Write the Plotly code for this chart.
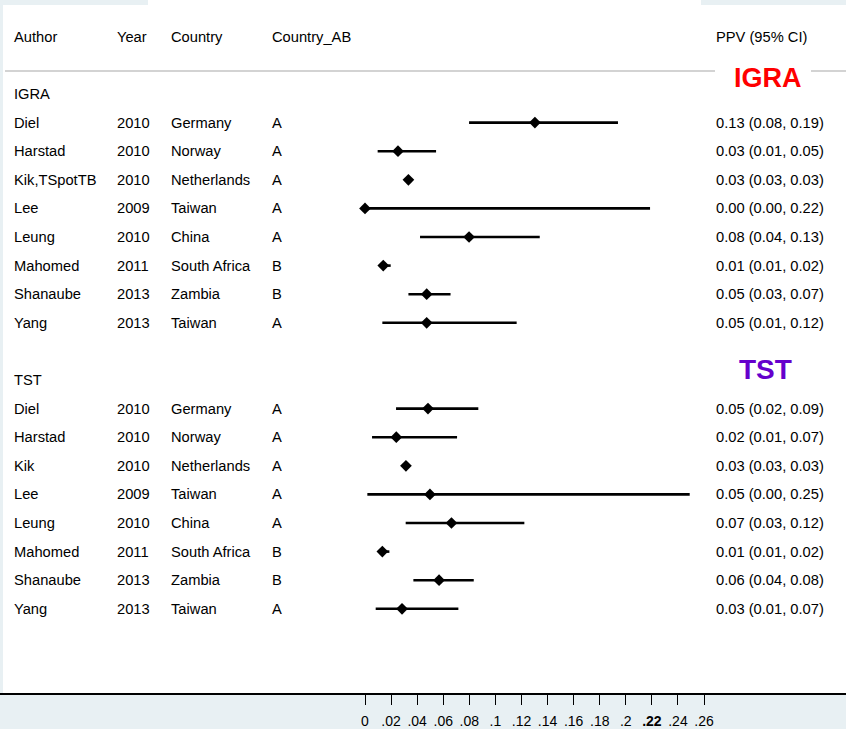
import plotly.graph_objects as go

# ---------------- data ----------------
igra_authors = ["Diel", "Harstad", "Kik,TSpotTB", "Lee", "Leung", "Mahomed", "Shanaube", "Yang"]
tst_authors = ["Diel", "Harstad", "Kik", "Lee", "Leung", "Mahomed", "Shanaube", "Yang"]
years = ["2010", "2010", "2010", "2009", "2010", "2011", "2013", "2013"]
countries = ["Germany", "Norway", "Netherlands", "Taiwan", "China", "South Africa", "Zambia", "Taiwan"]
country_ab = ["A", "A", "A", "A", "A", "B", "B", "A"]

igra_ppv = [0.1303, 0.0253, 0.0333, 0.0, 0.0798, 0.014, 0.0473, 0.0473]
igra_lo = [0.0798, 0.0097, 0.032, 0.0, 0.0422, 0.0107, 0.0333, 0.0133]
igra_hi = [0.194, 0.0545, 0.0345, 0.2186, 0.134, 0.0197, 0.0656, 0.1163]

tst_ppv = [0.0483, 0.024, 0.0314, 0.0498, 0.0663, 0.0133, 0.0568, 0.0284]
tst_lo = [0.0238, 0.0054, 0.030, 0.0018, 0.0312, 0.0102, 0.0371, 0.0082]
tst_hi = [0.0869, 0.0706, 0.033, 0.249, 0.1222, 0.0187, 0.0834, 0.0716]

tick_vals = [0, 0.02, 0.04, 0.06, 0.08, 0.1, 0.12, 0.14, 0.16, 0.18, 0.2, 0.22, 0.24, 0.26]
tick_text = ["0", ".02", ".04", ".06", ".08", ".1", ".12", ".14", ".16", ".18", ".2", "<b>.22</b>", ".24", ".26"]

# ---------------- layout constants ----------------
W, H = 846, 729
BOTTOM = 36
PLOT_H = H - BOTTOM
ROW_PX = 28.6
FIRST_ROW_PX = 94
ZERO_PX = 365
PX_PER_UNIT = 1304.0
FONT = "Liberation Sans, Arial, sans-serif"
FS = 14.7
BG = "#e8f0f3"

def px_to_row(py):
    return (py - FIRST_ROW_PX) / ROW_PX

x_range = [-ZERO_PX / PX_PER_UNIT, (W - ZERO_PX) / PX_PER_UNIT]
y_range = [px_to_row(PLOT_H), px_to_row(0)]

igra_rows = [1 + i for i in range(len(igra_authors))]
tst_rows = [len(igra_authors) + 3 + i for i in range(len(tst_authors))]
igra_label_row = 0
tst_label_row = len(igra_authors) + 2
header_row = -2

fig = go.Figure()

def add_group(ppv, lo, hi, rows):
    fig.add_trace(go.Scatter(
        x=ppv, y=rows, mode="markers",
        marker=dict(symbol="diamond", size=9, color="black"),
        error_x=dict(type="data", symmetric=False,
                     array=[h - p for h, p in zip(hi, ppv)],
                     arrayminus=[p - l for p, l in zip(ppv, lo)],
                     thickness=2.6, width=0, color="black"),
        showlegend=False, hoverinfo="skip"))

add_group(igra_ppv, igra_lo, igra_hi, igra_rows)
add_group(tst_ppv, tst_lo, tst_hi, tst_rows)

annotations = []

def txt(xpx, row, text, size=FS, color="black", anchor="left"):
    annotations.append(dict(x=xpx / W, xref="paper", y=row, yref="y", text=text,
                            showarrow=False, xanchor=anchor, yanchor="middle",
                            font=dict(family=FONT, size=size, color=color)))

col_x = {"author": 12, "year": 115, "country": 169, "ab": 270, "ppv": 714}
txt(col_x["author"], header_row, "Author")
txt(col_x["year"], header_row, "Year")
txt(col_x["country"], header_row, "Country")
txt(col_x["ab"], header_row, "Country_AB")
txt(col_x["ppv"], header_row, "PPV (95% CI)")

txt(col_x["author"], igra_label_row, "IGRA")
txt(col_x["author"], tst_label_row, "TST")

def fmt(p, l, h):
    return f"{p:.2f} ({l:.2f}, {h:.2f})"

for authors, ppv, lo, hi, rows in [(igra_authors, igra_ppv, igra_lo, igra_hi, igra_rows),
                                    (tst_authors, tst_ppv, tst_lo, tst_hi, tst_rows)]:
    for i, r in enumerate(rows):
        txt(col_x["author"], r, authors[i])
        txt(col_x["year"], r, years[i])
        txt(col_x["country"], r, countries[i])
        txt(col_x["ab"], r, country_ab[i])
        txt(col_x["ppv"], r, fmt(ppv[i], lo[i], hi[i]))

txt(768, px_to_row(78), "<b>IGRA</b>", size=27, color="#ff0000", anchor="center")
txt(765, px_to_row(369), "<b>TST</b>", size=28, color="#6600cc", anchor="center")

shapes = [
    # background strips
    dict(type="rect", xref="paper", yref="paper", x0=0, x1=148 / W, y0=1, y1=1 - 5 / PLOT_H,
         fillcolor=BG, line=dict(width=0), layer="below"),
    dict(type="rect", xref="paper", yref="paper", x0=701 / W, x1=1, y0=1, y1=1 - 5 / PLOT_H,
         fillcolor=BG, line=dict(width=0), layer="below"),
    dict(type="rect", xref="paper", yref="paper", x0=0, x1=3 / W, y0=0, y1=1,
         fillcolor=BG, line=dict(width=0), layer="below"),
    dict(type="rect", xref="paper", yref="paper", x0=0, x1=1, y0=0, y1=-BOTTOM / PLOT_H,
         fillcolor=BG, line=dict(width=0), layer="below"),
    # gray separator line with a gap for the IGRA label
    dict(type="line", xref="paper", yref="y", x0=5 / W, x1=715 / W, y0=px_to_row(71), y1=px_to_row(71),
         line=dict(color="#c4c4c4", width=1.5)),
    dict(type="line", xref="paper", yref="y", x0=811 / W, x1=1, y0=px_to_row(71), y1=px_to_row(71),
         line=dict(color="#c4c4c4", width=1.5)),
]

fig.update_layout(
    width=W, height=H,
    margin=dict(l=0, r=0, t=0, b=BOTTOM, pad=0),
    paper_bgcolor="white", plot_bgcolor="rgba(0,0,0,0)",
    annotations=annotations, shapes=shapes,
    xaxis=dict(range=x_range, showgrid=False, zeroline=False, showline=True,
               linecolor="black", linewidth=2, ticks="outside", ticklen=10, tickwidth=1,
               tickcolor="black", tickvals=tick_vals, ticktext=tick_text,
               ticklabelstandoff=4,
               tickfont=dict(family=FONT, size=14, color="black")),
    yaxis=dict(range=y_range, showgrid=False, zeroline=False, showline=False,
               showticklabels=False, ticks=""),
)

fig.write_html("out.html", config={"displayModeBar": False},
               post_script="document.body.style.margin='0';document.body.style.overflow='hidden';")
